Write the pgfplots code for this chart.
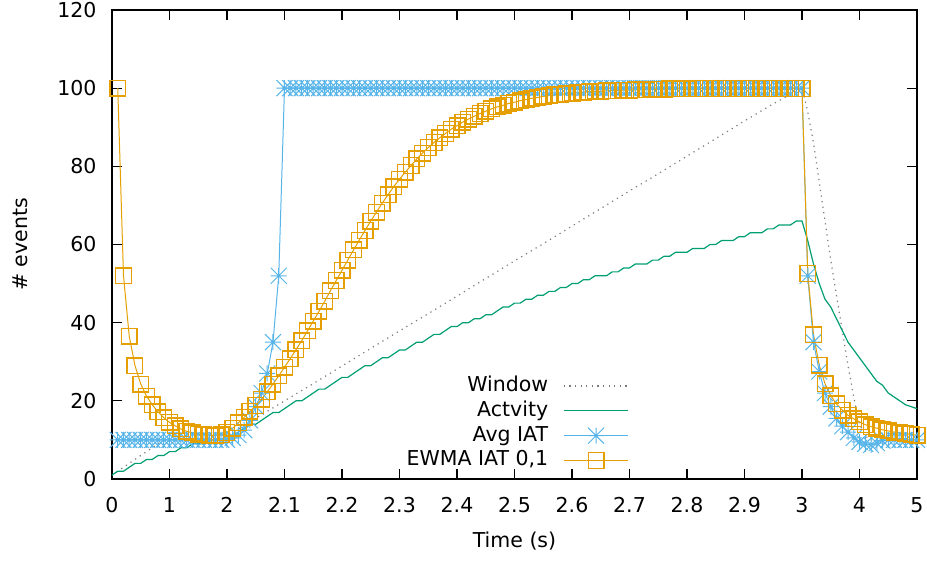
\documentclass[border=0pt]{standalone}
\usepackage{fontspec}
\setmainfont{DejaVu Sans}
\usepackage{pgfplots}
\usepackage{pgfplotstable}
\pgfplotsset{compat=1.18}
\definecolor{cwin}{HTML}{7A7A7A}
\definecolor{cact}{HTML}{009E73}
\definecolor{cavg}{HTML}{56B4E9}
\definecolor{cewm}{HTML}{E69F00}
\pgfdeclareplotmark{gpast}{%
 \pgfpathmoveto{\pgfqpoint{-\pgfplotmarksize}{0pt}}\pgfpathlineto{\pgfqpoint{\pgfplotmarksize}{0pt}}%
 \pgfpathmoveto{\pgfqpoint{0pt}{-\pgfplotmarksize}}\pgfpathlineto{\pgfqpoint{0pt}{\pgfplotmarksize}}%
 \pgfpathmoveto{\pgfqpoint{-\pgfplotmarksize}{-\pgfplotmarksize}}\pgfpathlineto{\pgfqpoint{\pgfplotmarksize}{\pgfplotmarksize}}%
 \pgfpathmoveto{\pgfqpoint{-\pgfplotmarksize}{\pgfplotmarksize}}\pgfpathlineto{\pgfqpoint{\pgfplotmarksize}{-\pgfplotmarksize}}%
 \pgfusepathqstroke}
\newcommand{\ff}{\fontsize{10.25}{12.3}\selectfont}

% x is a position on the drawn time axis: 0..2 -> 0..2 s, 2..12 -> 2.0..3.0 s, 12..14 -> 3..5 s
\pgfplotstableread[row sep=\\]{u y\\
0.0 1\\ 0.1 2\\ 0.2 2\\ 0.3 3\\ 0.4 4\\ 0.5 4\\ 0.6 5\\ 0.7 5\\ 0.8 6\\ 0.9 6\\
1.0 7\\ 1.1 7\\ 1.2 8\\ 1.3 8\\ 1.4 9\\ 1.5 9\\ 1.6 9\\ 1.7 10\\ 1.8 10\\ 1.9 10\\
2.0 11\\ 2.1 11\\ 2.2 12\\ 2.3 13\\ 2.4 14\\ 2.5 14\\ 2.6 15\\ 2.7 16\\ 2.8 17\\ 2.9 17\\
3.0 18\\ 3.1 19\\ 3.2 20\\ 3.3 20\\ 3.4 21\\ 3.5 22\\ 3.6 23\\ 3.7 23\\ 3.8 24\\ 3.9 25\\
4.0 26\\ 4.1 26\\ 4.2 27\\ 4.3 28\\ 4.4 29\\ 4.5 29\\ 4.6 30\\ 4.7 31\\ 4.8 31\\ 4.9 32\\
5.0 33\\ 5.1 33\\ 5.2 34\\ 5.3 35\\ 5.4 35\\ 5.5 36\\ 5.6 37\\ 5.7 37\\ 5.8 38\\ 5.9 39\\
6.0 39\\ 6.1 40\\ 6.2 40\\ 6.3 41\\ 6.4 41\\ 6.5 42\\ 6.6 42\\ 6.7 43\\ 6.8 44\\ 6.9 44\\
7.0 45\\ 7.1 45\\ 7.2 46\\ 7.3 46\\ 7.4 47\\ 7.5 47\\ 7.6 48\\ 7.7 48\\ 7.8 49\\ 7.9 49\\
8.0 50\\ 8.1 50\\ 8.2 51\\ 8.3 51\\ 8.4 52\\ 8.5 52\\ 8.6 52\\ 8.7 53\\ 8.8 53\\ 8.9 54\\
9.0 54\\ 9.1 55\\ 9.2 55\\ 9.3 55\\ 9.4 56\\ 9.5 56\\ 9.6 57\\ 9.7 57\\ 9.8 58\\ 9.9 58\\
10.0 58\\ 10.1 59\\ 10.2 59\\ 10.3 59\\ 10.4 60\\ 10.5 60\\ 10.6 61\\ 10.7 61\\ 10.8 61\\ 10.9 62\\
11.0 62\\ 11.1 63\\ 11.2 63\\ 11.3 63\\ 11.4 64\\ 11.5 64\\ 11.6 65\\ 11.7 65\\ 11.8 65\\ 11.9 66\\
12.0 66\\ 12.1 61\\ 12.2 55\\ 12.3 50\\ 12.4 46\\ 12.5 44\\ 12.6 41\\ 12.7 38\\ 12.8 35\\ 12.9 33\\
13.0 31\\ 13.1 29\\ 13.2 27\\ 13.3 25\\ 13.4 24\\ 13.5 22\\ 13.6 21\\ 13.7 20\\ 13.8 19\\ 13.9 18.5\\ 14.0 18\\
}\tblact

\pgfplotstableread[row sep=\\]{u y\\
0.0 1\\ 0.1 2\\ 0.2 3\\ 0.3 4\\ 0.4 5\\ 0.5 6\\ 0.6 7\\ 0.7 8\\ 0.8 9\\ 0.9 10\\ 1.0 10\\ 1.5 10.5\\ 2.0 11\\
2.5 15.5\\ 3.0 20\\ 3.5 24.4\\ 4.0 28.9\\ 4.5 33.4\\ 5.0 37.9\\ 5.5 42.3\\ 6.0 46.8\\ 6.5 51.3\\ 7.0 55.8\\
7.5 60.2\\ 8.0 64.7\\ 8.5 69.2\\ 9.0 73.7\\ 9.5 78.1\\ 10.0 82.6\\ 10.5 87.1\\ 11.0 91.6\\ 11.5 96\\ 12.0 100\\
12.1 94\\ 12.2 86\\ 12.3 76\\ 12.4 66\\ 12.5 56\\ 12.6 47\\ 12.7 38\\ 12.8 29\\ 12.9 21\\ 13.0 14\\ 13.1 11\\ 13.2 10\\ 14.0 10\\
}\tblwin

\pgfplotstableread[row sep=\\]{u y\\
0.1 10\\ 0.2 10\\ 0.3 10\\ 0.4 10\\ 0.5 10\\ 0.6 10\\ 0.7 10\\ 0.8 10\\ 0.9 10\\ 1.0 10\\
1.1 10\\ 1.2 10\\ 1.3 10\\ 1.4 10\\ 1.5 10\\ 1.6 10\\ 1.7 10\\ 1.8 10\\ 1.9 10\\ 2.0 10\\
2.1 10.5\\ 2.2 11.2\\ 2.3 12.5\\ 2.4 15\\ 2.5 18.5\\ 2.6 22\\ 2.7 27\\ 2.8 35\\ 2.9 52\\
3.0 100\\ 3.1 100\\ 3.2 100\\ 3.3 100\\ 3.4 100\\ 3.5 100\\ 3.6 100\\ 3.7 100\\ 3.8 100\\ 3.9 100\\
4.0 100\\ 4.1 100\\ 4.2 100\\ 4.3 100\\ 4.4 100\\ 4.5 100\\ 4.6 100\\ 4.7 100\\ 4.8 100\\ 4.9 100\\
5.0 100\\ 5.1 100\\ 5.2 100\\ 5.3 100\\ 5.4 100\\ 5.5 100\\ 5.6 100\\ 5.7 100\\ 5.8 100\\ 5.9 100\\
6.0 100\\ 6.1 100\\ 6.2 100\\ 6.3 100\\ 6.4 100\\ 6.5 100\\ 6.6 100\\ 6.7 100\\ 6.8 100\\ 6.9 100\\
7.0 100\\ 7.1 100\\ 7.2 100\\ 7.3 100\\ 7.4 100\\ 7.5 100\\ 7.6 100\\ 7.7 100\\ 7.8 100\\ 7.9 100\\
8.0 100\\ 8.1 100\\ 8.2 100\\ 8.3 100\\ 8.4 100\\ 8.5 100\\ 8.6 100\\ 8.7 100\\ 8.8 100\\ 8.9 100\\
9.0 100\\ 9.1 100\\ 9.2 100\\ 9.3 100\\ 9.4 100\\ 9.5 100\\ 9.6 100\\ 9.7 100\\ 9.8 100\\ 9.9 100\\
10.0 100\\ 10.1 100\\ 10.2 100\\ 10.3 100\\ 10.4 100\\ 10.5 100\\ 10.6 100\\ 10.7 100\\ 10.8 100\\ 10.9 100\\
11.0 100\\ 11.1 100\\ 11.2 100\\ 11.3 100\\ 11.4 100\\ 11.5 100\\ 11.6 100\\ 11.7 100\\ 11.8 100\\ 11.9 100\\
12.0 100\\ 12.1 52\\ 12.2 35\\ 12.3 27.5\\ 12.4 22\\ 12.5 18.5\\ 12.6 15.5\\ 12.7 13.5\\ 12.8 12\\ 12.9 10.5\\
13.0 9.5\\ 13.1 9\\ 13.2 8.7\\ 13.3 9.2\\ 13.4 9.8\\ 13.5 10\\ 13.6 10\\ 13.7 10\\ 13.8 10\\ 13.9 10\\ 14.0 10\\
}\tblavg

\pgfplotstableread[row sep=\\]{u y\\
0.1 100\\ 0.2 52\\ 0.3 36.5\\ 0.4 29\\ 0.5 24.3\\ 0.6 21.2\\ 0.7 19\\ 0.8 17.2\\ 0.9 15.7\\ 1.0 14.5\\
1.1 13.6\\ 1.2 12.8\\ 1.3 12.2\\ 1.4 11.8\\ 1.5 11.5\\ 1.6 11.3\\ 1.7 11.2\\ 1.8 11.1\\ 1.9 11.3\\ 2.0 11.9\\
2.1 13.0\\ 2.2 14.4\\ 2.3 15.8\\ 2.4 17.3\\ 2.5 18.8\\ 2.6 20.4\\ 2.7 22.3\\ 2.8 24.3\\ 2.9 26.4\\ 3.0 28.6\\
3.1 30.8\\ 3.2 33.1\\ 3.3 35.4\\ 3.4 37.9\\ 3.5 40.4\\ 3.6 42.9\\ 3.7 45.5\\ 3.8 48.2\\ 3.9 50.8\\ 4.0 53.4\\
4.1 56.0\\ 4.2 58.6\\ 4.3 61.1\\ 4.4 63.6\\ 4.5 66.0\\ 4.6 68.3\\ 4.7 70.6\\ 4.8 72.7\\ 4.9 74.8\\ 5.0 76.7\\
5.1 78.5\\ 5.2 80.2\\ 5.3 81.9\\ 5.4 83.4\\ 5.5 84.8\\ 5.6 86.1\\ 5.7 87.3\\ 5.8 88.4\\ 5.9 89.5\\ 6.0 90.4\\
6.1 91.3\\ 6.2 92.1\\ 6.3 92.8\\ 6.4 93.5\\ 6.5 94.1\\ 6.6 94.7\\ 6.7 95.2\\ 6.8 95.6\\ 6.9 96.1\\ 7.0 96.4\\
7.1 96.8\\ 7.2 97.1\\ 7.3 97.4\\ 7.4 97.6\\ 7.5 97.9\\ 7.6 98.1\\ 7.7 98.3\\ 7.8 98.4\\ 7.9 98.6\\ 8.0 98.7\\
8.1 98.9\\ 8.2 99.0\\ 8.3 99.1\\ 8.4 99.2\\ 8.5 99.2\\ 8.6 99.3\\ 8.7 99.4\\ 8.8 99.4\\ 8.9 99.5\\ 9.0 99.5\\
9.1 99.6\\ 9.2 99.6\\ 9.3 99.6\\ 9.4 99.7\\ 9.5 99.7\\ 9.6 99.7\\ 9.7 99.8\\ 9.8 99.8\\ 9.9 99.8\\ 10.0 99.8\\
10.1 99.9\\ 10.2 99.9\\ 10.3 99.9\\ 10.4 99.9\\ 10.5 99.9\\ 10.6 99.9\\ 10.7 99.9\\ 10.8 99.9\\ 10.9 99.9\\ 11.0 99.9\\
11.1 99.9\\ 11.2 99.9\\ 11.3 99.9\\ 11.4 99.9\\ 11.5 99.9\\ 11.6 99.9\\ 11.7 99.9\\ 11.8 99.9\\ 11.9 99.9\\ 12.0 99.9\\
12.1 52.6\\ 12.2 36.9\\ 12.3 29.1\\ 12.4 24.4\\ 12.5 21.3\\ 12.6 19.2\\ 12.7 17.6\\ 12.8 16.3\\ 12.9 15.4\\ 13.0 14.6\\
13.1 13.9\\ 13.2 13.4\\ 13.3 13.0\\ 13.4 12.6\\ 13.5 12.3\\ 13.6 12.0\\ 13.7 11.8\\ 13.8 11.6\\ 13.9 11.4\\ 14.0 11.2\\
}\tblewm

\begin{document}
\begin{tikzpicture}
\begin{axis}[
  scale only axis, width=402.5pt, height=234.5pt,
  xmin=0, xmax=14, ymin=0, ymax=120,
  clip=false,
  xtick={0,1,...,14},
  xticklabels={0,1,2,2.1,2.2,2.3,2.4,2.5,2.6,2.7,2.8,2.9,3,4,5},
  ytick={0,20,40,60,80,100,120},
  /pgf/number format/assume math mode=true,
  tick align=inside, major tick length=4.8pt,
  xtick pos=both, ytick pos=both,
  xticklabel pos=left, yticklabel pos=left,
  axis line style={black, line width=0.8pt},
  every tick/.style={black, line width=0.6pt},
  xticklabel style={font=\ff, yshift=-5.5pt},
  yticklabel style={font=\ff, xshift=-4.2pt},
  xlabel={Time (s)}, ylabel={\# events},
  xlabel style={font=\ff, at={(axis description cs:0.5,0)}, anchor=base, yshift=-34.5pt},
  ylabel style={font=\ff, at={(axis description cs:-0.1143,0.5)}, anchor=center, rotate=0},
  legend cell align=right, legend plot pos=right,
  legend image code/.code={\draw[mark repeat=2,mark phase=2] plot coordinates {(0pt,0pt) (16.15pt,0pt) (32.3pt,0pt)};},
  legend style={draw=none, fill=none, font=\ff, inner sep=0pt, outer sep=0pt,
    row sep=1.2pt, column sep=7pt, at={(0.6422,0.222)}, anchor=north east,
    nodes={inner sep=0.5pt, text height=7.8pt, text depth=2.4pt}},
]
\addplot[cwin, line width=0.6pt, dash pattern=on 0.6pt off 2.2pt] table[x=u,y=y] {\tblwin};
\addlegendentry{Window}
\addplot[cact, line width=0.6pt] table[x=u,y=y] {\tblact};
\addlegendentry{Actvity}
\addplot[cavg, line width=0.5pt, mark=gpast, mark size=4pt, mark options={line width=0.5pt}] table[x=u,y=y] {\tblavg};
\addlegendentry{Avg IAT}
\addplot[cewm, line width=0.5pt, mark=square, mark size=3.9pt, mark options={line width=0.7pt}] table[x=u,y=y] {\tblewm};
\addlegendentry{EWMA IAT 0,1}
\coordinate (ll) at (rel axis cs:0,0);
\coordinate (ur) at (rel axis cs:1,1);
\end{axis}
\pgfresetboundingbox
\path ([shift={(-56pt,-41pt)}]ll) rectangle ([shift={(5pt,5pt)}]ur);
\end{tikzpicture}
\end{document}
